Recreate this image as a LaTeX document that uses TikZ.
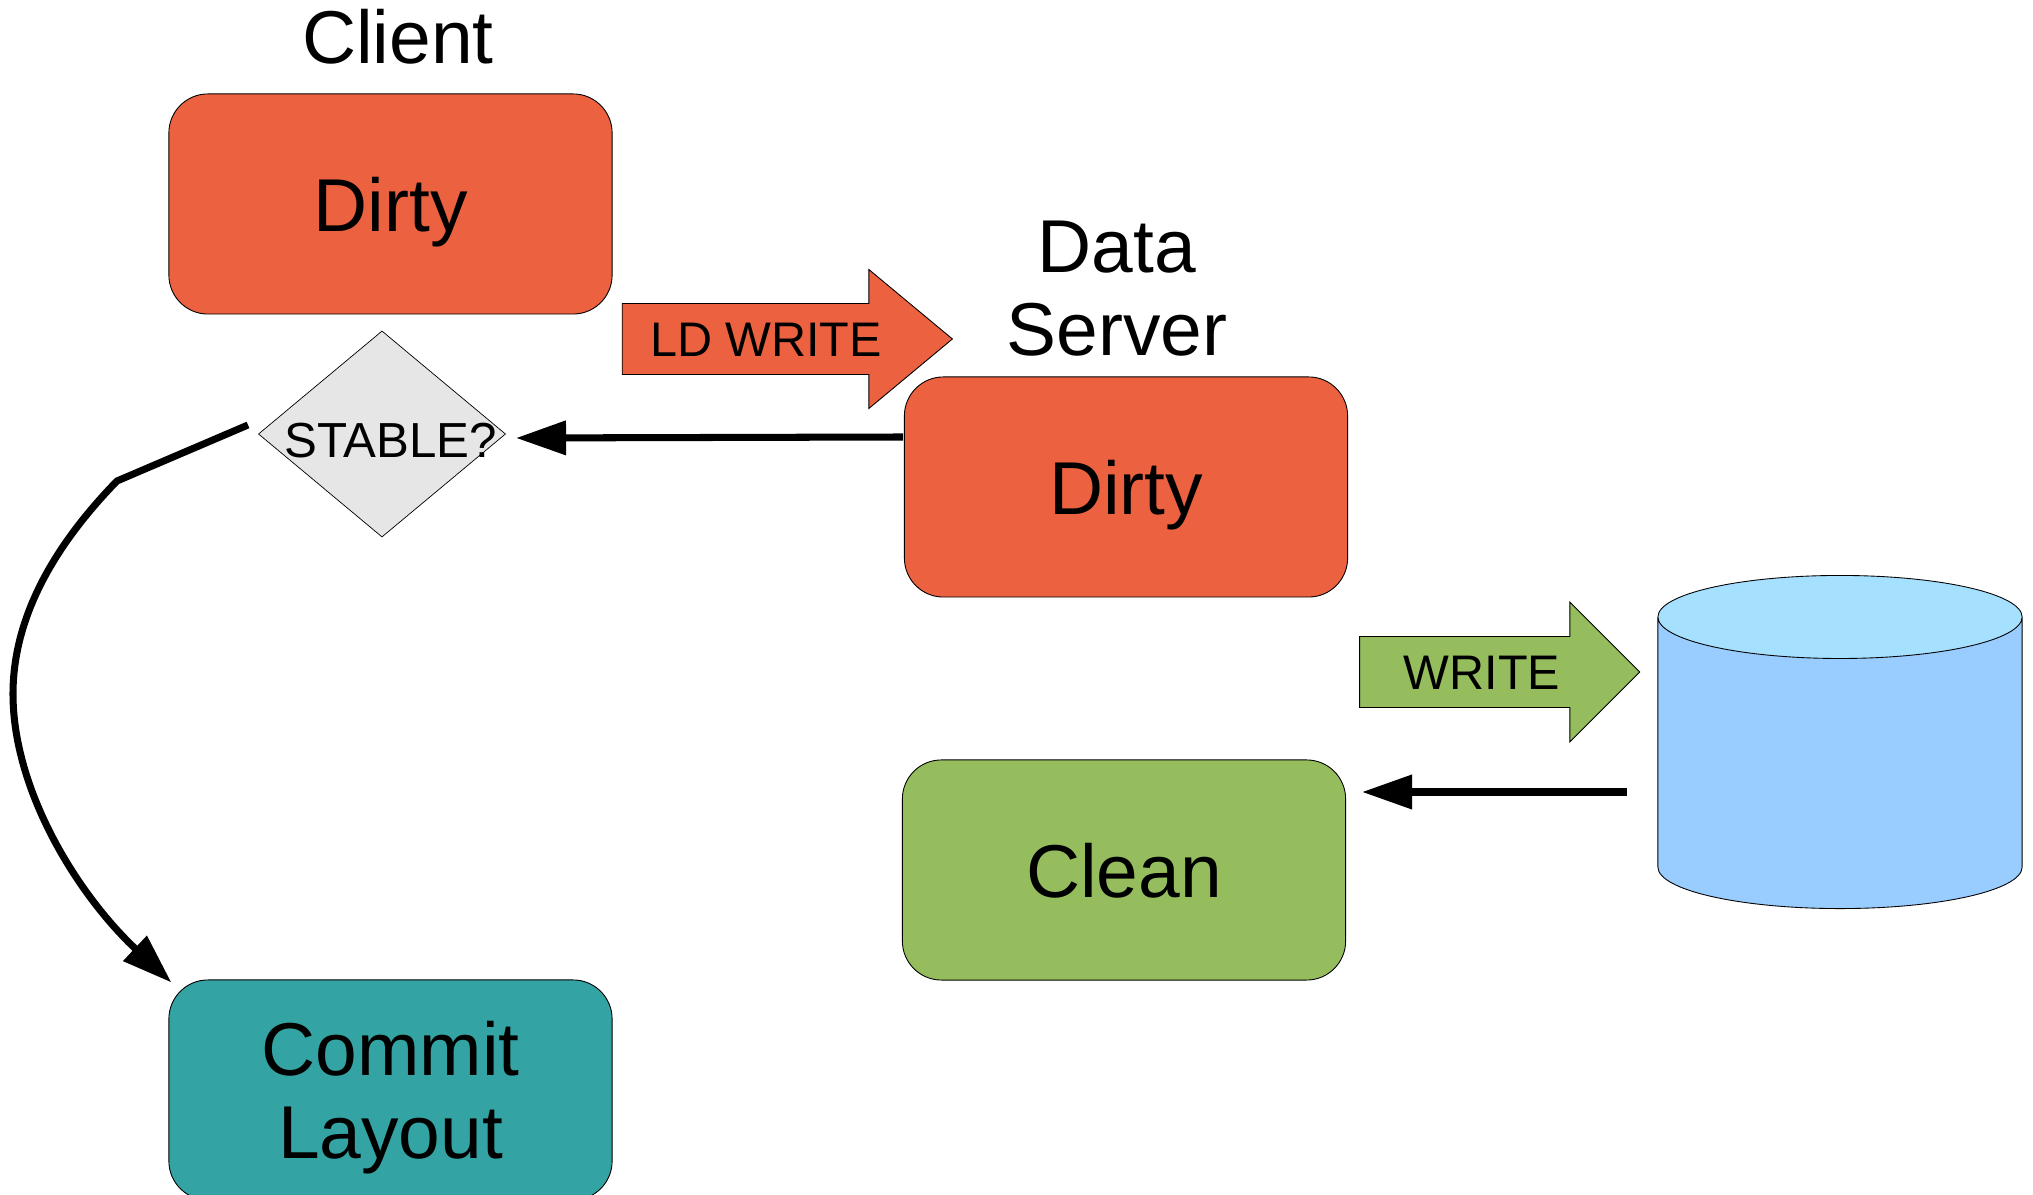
\documentclass[tikz,border=0pt]{standalone}
\usepackage{fontspec}
\setmainfont{Liberation Sans}
\usetikzlibrary{arrows.meta,shapes.geometric,shapes.arrows}
\definecolor{dirtyred}{HTML}{EC613F}
\definecolor{cleangreen}{HTML}{95BD5E}
\definecolor{committeal}{HTML}{33A3A3}
\definecolor{stablegrey}{HTML}{E6E6E6}
\definecolor{diskblue}{HTML}{99CCFF}
\definecolor{disktop}{HTML}{A6E0FF}

\begin{document}
\begin{tikzpicture}[x=0.01cm, y=-0.01cm,
        bigtext/.style={font=\fontsize{21.3}{23.6}\selectfont, align=center},
        smalltext/.style={font=\fontsize{13.8}{16}\selectfont},
        statebox/.style={draw, line width=0.25pt, rounded corners=0.39cm, minimum width=4.43cm, minimum height=2.2cm, text depth=0pt, bigtext},
        blockarrow/.style={draw, line width=0.25pt, single arrow, inner sep=0pt, single arrow head indent=0pt, text height=0.52cm, text depth=0.18cm, smalltext},
        fatarrow/.style={line width=2pt, -{Triangle[length=0.5cm, width=0.33cm]}}]
                \useasboundingbox (0,0) rectangle (2033,1195);

                \node[statebox, fill=dirtyred] (cdirty) at (390.5,204) {Dirty};
                \node[statebox, fill=dirtyred] (sdirty) at (1126,487) {Dirty};
                \node[statebox, fill=cleangreen] (clean) at (1124,870) {Clean};
                \node[statebox, fill=committeal] (commit) at (390.5,1090) {Commit\\Layout};

                \node[bigtext] (client) at (398,37) {Client};
                \node[bigtext] (server) at (1117,289) {Data\\Server};

                \node[draw, line width=0.2pt, diamond, aspect=1.2, fill=stablegrey, minimum width=2.47cm, minimum height=2.06cm, inner sep=0pt] (stable) at (382,434) {};
                \node[font=\fontsize{14}{16}\selectfont] (stabletext) at (390.5,441) {STABLE?};

                \node[blockarrow, fill=dirtyred, single arrow tip angle=79.5, minimum width=1.38cm, minimum height=3.3cm, single arrow head extend=0.34cm] (ldwrite) at (766,339) {LD WRITE};

                \node[blockarrow, fill=cleangreen, single arrow tip angle=90, minimum width=1.39cm, minimum height=2.8cm, single arrow head extend=0.345cm] (write) at (1482,672) {WRITE};

                \node[draw, line width=0.25pt, cylinder, shape border rotate=90, shape aspect=0.228, text width=3.64cm, text height=2.08cm, text depth=0pt, inner sep=0pt, cylinder uses custom fill, cylinder body fill=diskblue, cylinder end fill=disktop] (disk) at (1840,763) {};

                \coordinate (stableout) at (248,425);
                \coordinate (stablein) at (516,438);
                \coordinate (sdirtyout) at (903,437);
                \coordinate (diskout) at (1627,792);
                \coordinate (cleanin) at (1362,792);

                \draw[fatarrow] (sdirtyout) -- (stablein);
                \draw[fatarrow] (diskout) -- (cleanin);
                \draw[fatarrow] (stableout) -- (117,481) .. controls (49,551) and (13,622) .. (13,694) .. controls (13,791) and (78,895) .. ([shift={(3,3)}]commit.north west);
            \end{tikzpicture}
\end{document}
